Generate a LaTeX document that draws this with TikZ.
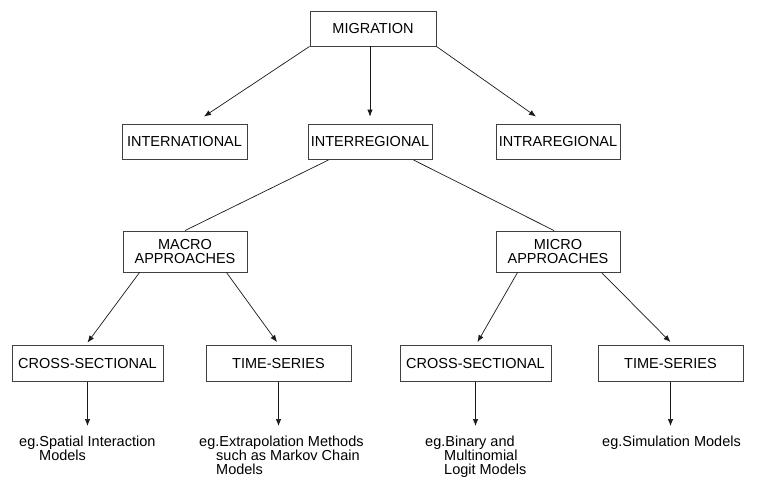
\documentclass[tikz,border=0pt]{standalone}
\usepackage{fontspec}
\setmainfont{Liberation Sans}
\usetikzlibrary{arrows.meta}
\begin{document}
\begin{tikzpicture}[x=1pt,y=-1pt,
  box/.style={draw=black!75, line width=0.9pt, inner sep=0pt, align=center,
    minimum height=35.5pt, font=\fontsize{14.5}{13.2}\selectfont},
  arr/.style={draw=black!90, line width=0.7pt, -{Latex[length=7pt,width=5.5pt]}},
  link/.style={draw=black!90, line width=0.7pt},
  note/.style={anchor=north west, inner sep=0pt, align=left,
    font=\fontsize{14.5}{13.8}\selectfont}]
\useasboundingbox (0,0) rectangle (757,495);
% boxes
\node[box, minimum width=126pt, minimum height=35pt] (mig) at (373,28.5) {MIGRATION};
\node[box, minimum width=125pt] (intl) at (184.5,141.75) {INTERNATIONAL};
\node[box, minimum width=124pt] (inter) at (370,141.75) {INTERREGIONAL};
\node[box, minimum width=124pt] (intra) at (558,141.75) {INTRAREGIONAL};
\node[box, minimum width=124pt, minimum height=41pt] (macro) at (185,251.5) {MACRO\\APPROACHES};
\node[box, minimum width=124pt, minimum height=41pt] (micro) at (558,251.5) {MICRO\\APPROACHES};
\node[box, minimum width=151pt] (cs1) at (87.5,363.3) {CROSS-SECTIONAL};
\node[box, minimum width=145pt] (ts1) at (278.5,363.3) {TIME-SERIES};
\node[box, minimum width=151pt] (cs2) at (475.5,363.3) {CROSS-SECTIONAL};
\node[box, minimum width=145pt] (ts2) at (670.5,363.3) {TIME-SERIES};
% notes
\node[note] (t1) at (19,436) {eg.Spatial Interaction\\\hspace*{20pt}Models};
\node[note] (t2) at (199,436) {eg.Extrapolation Methods\\\hspace*{17pt}such as Markov Chain\\\hspace*{17pt}Models};
\node[note] (t3) at (425,436) {eg.Binary and\\\hspace*{19pt}Multinomial\\\hspace*{19pt}Logit Models};
\node[note] (t4) at (602,436) {eg.Simulation Models};
% connectors
\draw[arr] (mig.south west) -- ([xshift=19.5pt,yshift=7pt]intl.north);
\draw[arr] (inter.north |- mig.south) -- ([yshift=7pt]inter.north);
\draw[arr] (mig.south east) -- ([xshift=-22pt,yshift=7pt]intra.north);
\draw[link] ([xshift=21pt]inter.south west) -- (macro.north);
\draw[link] ([xshift=-19pt]inter.south east) -- ([xshift=-4pt]micro.north);
\draw[arr] ([xshift=17pt]macro.south west) -- ([yshift=2.5pt]cs1.north);
\draw[arr] ([xshift=-21pt]macro.south east) -- ([xshift=-1.5pt,yshift=3pt]ts1.north);
\draw[arr] ([xshift=22pt]micro.south west) -- ([xshift=2pt,yshift=3pt]cs2.north);
\draw[arr] ([xshift=-19pt]micro.south east) -- ([yshift=3pt]ts2.north);
\draw[arr, shorten >=10pt] (cs1.south) -- (cs1.south |- t1.north);
\draw[arr, shorten >=10pt] (ts1.south) -- (ts1.south |- t2.north);
\draw[arr, shorten >=10pt] (cs2.south) -- (cs2.south |- t3.north);
\draw[arr, shorten >=10pt] (ts2.south) -- (ts2.south |- t4.north);
\end{tikzpicture}
\end{document}
